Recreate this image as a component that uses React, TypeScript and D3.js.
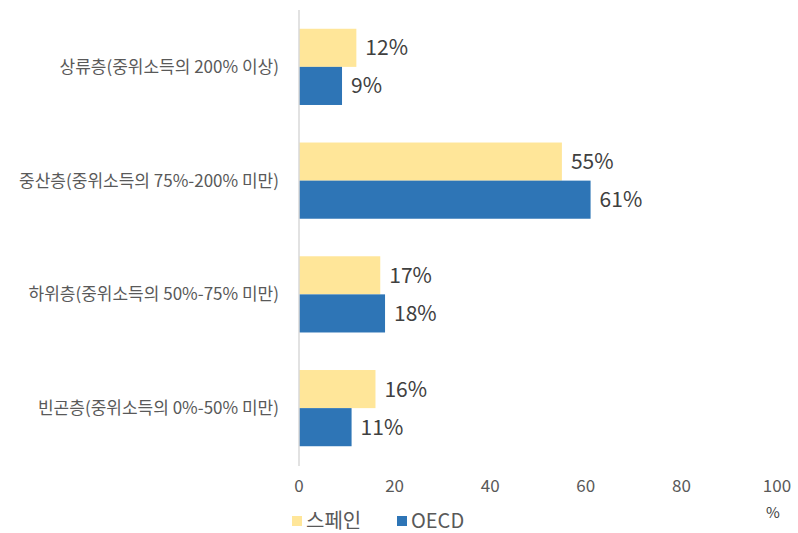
import { useEffect, useRef } from "react";
import * as d3 from "d3";

const categories = [
  "상류층(중위소득의 200% 이상)",
  "중산층(중위소득의 75%-200% 미만)",
  "하위층(중위소득의 50%-75% 미만)",
  "빈곤층(중위소득의 0%-50% 미만)",
];
const spain = [12, 55, 17, 16];
const oecd = [9, 61, 18, 11];
const seriesNames = ["스페인", "OECD"];
const colors = ["#FFE699", "#2E75B6"];
const xTicks = [0, 20, 40, 60, 80, 100];

const FONT = "'Noto Sans CJK KR', 'Noto Sans', sans-serif";

export default function App() {
  const svgRef = useRef<SVGSVGElement>(null);

  useEffect(() => {
    const el = svgRef.current;
    if (!el) return;
    const svg = d3.select(el);
    svg.selectAll("*").remove();

    const W = 798;
    const H = 533;
    const m = { top: 10, left: 299, right: 21, bottom: 68 };

    const xs = d3.scaleLinear().domain([0, 100]).range([m.left, W - m.right]);
    const ys = d3
      .scaleBand<string>()
      .domain(categories)
      .range([m.top, H - m.bottom])
      .paddingInner(0.33)
      .paddingOuter(0.165);
    const inner = d3
      .scaleBand<number>()
      .domain([0, 1])
      .range([0, ys.bandwidth()]);

    svg.attr("viewBox", `0 0 ${W} ${H}`);

    const series = [spain, oecd];

    // bars
    series.forEach((vals, si) => {
      svg
        .append("g")
        .selectAll("rect")
        .data(vals)
        .enter()
        .append("rect")
        .attr("x", xs(0))
        .attr("y", (_, i) => (ys(categories[i]) ?? 0) + (inner(si) ?? 0))
        .attr("width", (d) => xs(d) - xs(0))
        .attr("height", inner.bandwidth())
        .attr("fill", colors[si]);

      svg
        .append("g")
        .selectAll("text")
        .data(vals)
        .enter()
        .append("text")
        .attr("x", (d) => xs(d) + 9)
        .attr(
          "y",
          (_, i) =>
            (ys(categories[i]) ?? 0) + (inner(si) ?? 0) + inner.bandwidth() / 2,
        )
        .attr("dy", "0.36em")
        .attr("fill", "#404040")
        .style("font-size", "21px")
        .style("font-family", FONT)
        .text((d) => `${d}%`);
    });

    // vertical axis line
    svg
      .append("line")
      .attr("x1", xs(0))
      .attr("x2", xs(0))
      .attr("y1", m.top)
      .attr("y2", H - m.bottom + 1)
      .attr("stroke", "#d9d9d9")
      .attr("stroke-width", 1.5);

    // category labels
    svg
      .append("g")
      .selectAll("text")
      .data(categories)
      .enter()
      .append("text")
      .attr("x", xs(0) - 20)
      .attr("y", (d) => (ys(d) ?? 0) + ys.bandwidth() / 2)
      .attr("dy", "0.36em")
      .attr("text-anchor", "end")
      .attr("fill", "#595959")
      .style("font-size", "17px")
      .style("font-family", FONT)
      .text((d) => d);

    // x tick labels
    svg
      .append("g")
      .selectAll("text")
      .data(xTicks)
      .enter()
      .append("text")
      .attr("x", (d) => xs(d))
      .attr("y", 486)
      .attr("dy", "0.36em")
      .attr("text-anchor", "middle")
      .attr("fill", "#595959")
      .style("font-size", "17px")
      .style("font-family", FONT)
      .text((d) => d);

    svg
      .append("text")
      .attr("x", xs(100) - 4)
      .attr("y", 513)
      .attr("dy", "0.36em")
      .attr("text-anchor", "middle")
      .attr("fill", "#404040")
      .style("font-size", "15px")
      .style("font-family", FONT)
      .text("%");

    // legend
    const legX = [292, 397];
    seriesNames.forEach((name, i) => {
      svg
        .append("rect")
        .attr("x", legX[i])
        .attr("y", 516)
        .attr("width", 10)
        .attr("height", 10)
        .attr("fill", colors[i]);
      svg
        .append("text")
        .attr("x", legX[i] + 14)
        .attr("y", 521)
        .attr("dy", "0.36em")
        .attr("fill", "#595959")
        .style("font-size", "20px")
        .style("font-family", FONT)
        .text(name);
    });
  }, []);

  return (
    <svg
      ref={svgRef}
      width={798}
      height={533}
      style={{ position: "absolute", left: 0, top: 0, background: "#fff" }}
    />
  );
}
